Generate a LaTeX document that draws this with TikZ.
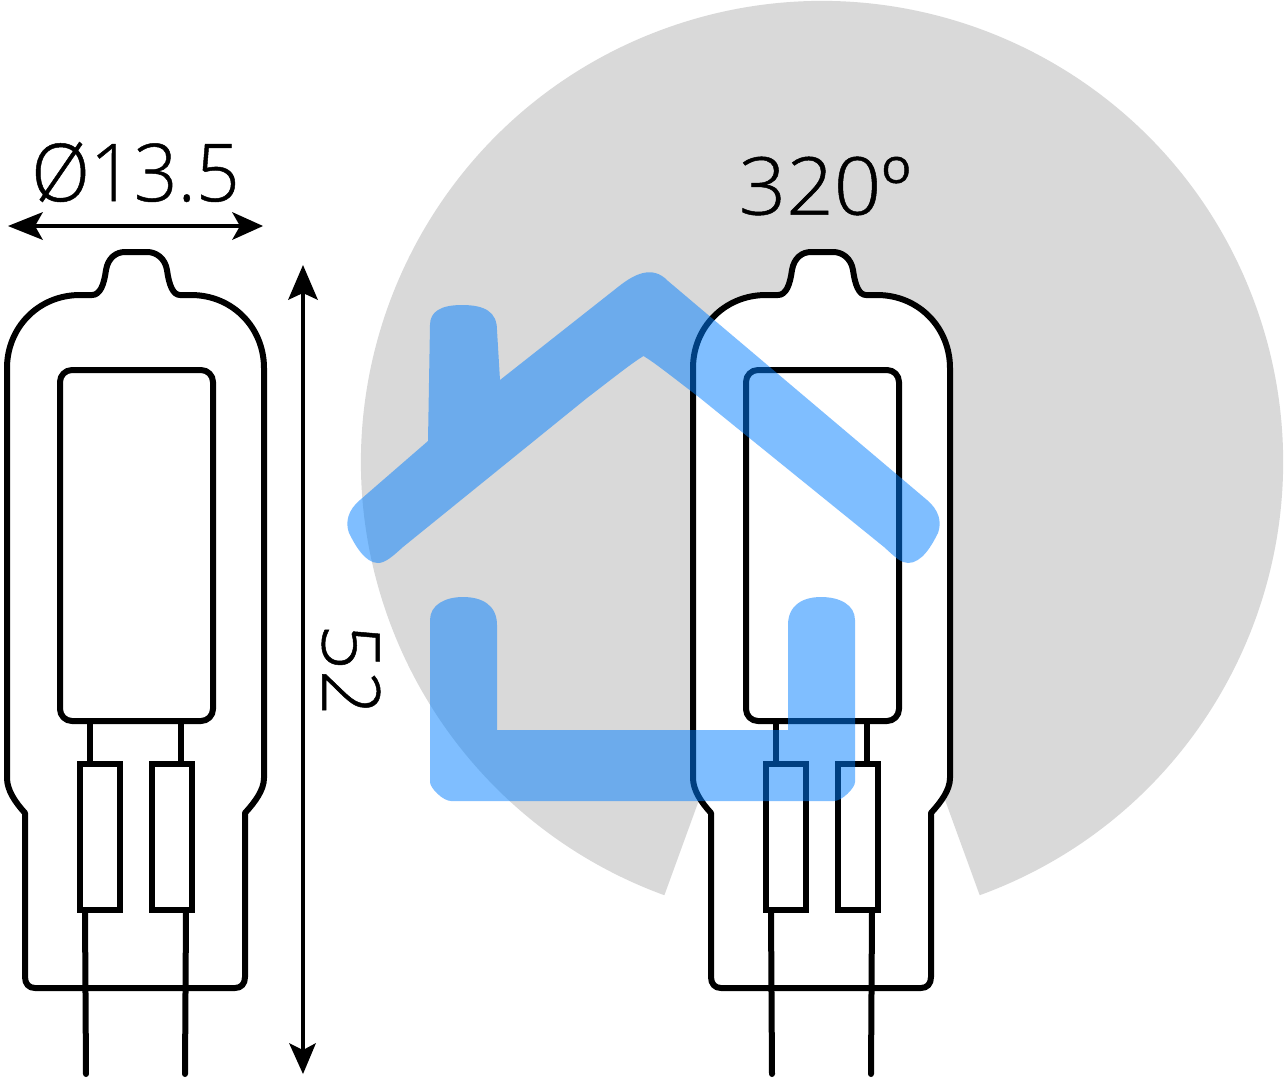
\documentclass[tikz,border=0pt]{standalone}
\usepackage{fontspec}
\setmainfont{Open Sans Light}[FakeBold=0.6]
\definecolor{wedge}{HTML}{D9D9D9}
\definecolor{housecol}{HTML}{007FFF}
\tikzset{
  x=1pt,y=-1pt,
  lampline/.style={line width=6pt,black,line join=round,line cap=round},
  boxline/.style={line width=6pt,black,line join=miter},
  dimline/.style={line width=4pt,black},
  dimhead/.style={fill=black,draw=none},
  dimtext/.style={font=\fontsize{80}{80}\selectfont,inner sep=0pt,text=black},
  pics/lamp/.style={code={
    \draw[lampline,fill=white]
      (7,368) .. controls (7,328) and (38,295) .. (80,295) -- (92,295)
      .. controls (100,295) and (104,285) .. (106,270)
      .. controls (108,258) and (116,252) .. (125,252) -- (147,252)
      .. controls (156,252) and (165,258) .. (167,270)
      .. controls (169,285) and (173,295) .. (180,295) -- (191,295)
      .. controls (233,295) and (264,328) .. (264,368)
      -- (264,778) .. controls (264,790) and (255,802) .. (245,813)
      -- (245,977) .. controls (245,984) and (241,988) .. (235,988)
      -- (35,988) .. controls (29,988) and (25,984) .. (25,977)
      -- (25,813) .. controls (15,802) and (7,790) .. (7,778) -- cycle;
    \draw[lampline,rounded corners=12pt] (60,370) rectangle (213,721);
    \draw[lampline,line cap=butt] (90,721) -- (90,764);
    \draw[lampline,line cap=butt] (181,721) -- (181,764);
    \draw[boxline] (80,764) rectangle (120,910);
    \draw[boxline] (152,764) rectangle (192,910);
    \draw[lampline] (85,912) -- (86,1074);
    \draw[lampline] (186,912) -- (185,1074);
  }}
}
\begin{document}
\begin{tikzpicture}
\useasboundingbox (0,0) rectangle (1286,1080);
\fill[white] (0,0) rectangle (1286,1080);
% grey 320 degree sector
\fill[wedge] (979.7,895.2) arc[start angle=-70,end angle=250,radius=461pt] -- (822,462) -- cycle;
% lamps
\pic at (0,0) {lamp};
\pic at (686,0) {lamp};
% dimension lines
\coordinate (wl) at (30,226); \coordinate (wr) at (241,226);
\coordinate (ht) at (303,290); \coordinate (hb) at (303,1050);
\draw[dimline] (wl) -- (wr);
\draw[dimline] (ht) -- (hb);
\fill[dimhead] (8,226) -- (43,212) -- (35,226) -- (43,240) -- cycle;
\fill[dimhead] (263,226) -- (232,212) -- (240,226) -- (232,240) -- cycle;
\fill[dimhead] (303,265) -- (288,300) -- (303,293) -- (318,300) -- cycle;
\fill[dimhead] (303,1074) -- (289,1043) -- (303,1050) -- (316,1043) -- cycle;
% house
\fill[housecol,fill opacity=.5]
  (430,325) .. controls (430,312) and (440,305) .. (462,305)
  .. controls (485,305) and (497,312) .. (497,330)
  -- (500,380) -- (618,287)
  .. controls (633,275) and (652,264) .. (668,281)
  -- (927,500) .. controls (939,510) and (942,522) .. (938,533)
  .. controls (932,545) and (922,563) .. (908,563)
  .. controls (901,563) and (895,557) .. (884,547)
  -- (700,398) .. controls (670,375) and (655,363) .. (643.5,356)
  .. controls (632,363) and (617,375) .. (587,398)
  -- (403,547)
  .. controls (392,557) and (385,563) .. (378,563)
  .. controls (365,563) and (355,545) .. (349,533)
  .. controls (345,522) and (348,510) .. (360,500)
  -- (428,441) -- cycle;
\fill[housecol,fill opacity=.5]
  (430,620) .. controls (430,605) and (445,597) .. (463,597)
  .. controls (482,597) and (497,605) .. (497,625)
  -- (497,730) -- (788,730) -- (788,625)
  .. controls (788,605) and (803,597) .. (821,597)
  .. controls (840,597) and (855,605) .. (855,620)
  -- (855,782) .. controls (855,788) and (842,801) .. (834,801)
  -- (451,801) .. controls (443,801) and (430,788) .. (430,782) -- cycle;
% labels
\node[dimtext,xscale=.96] (dia) at (135.5,172) {Ø13.5};
\node[dimtext,xscale=1.04] (ang) at (825,186) {320º};
\node[dimtext,rotate=-90] (len) at (351,670) {52};
\end{tikzpicture}
\end{document}
